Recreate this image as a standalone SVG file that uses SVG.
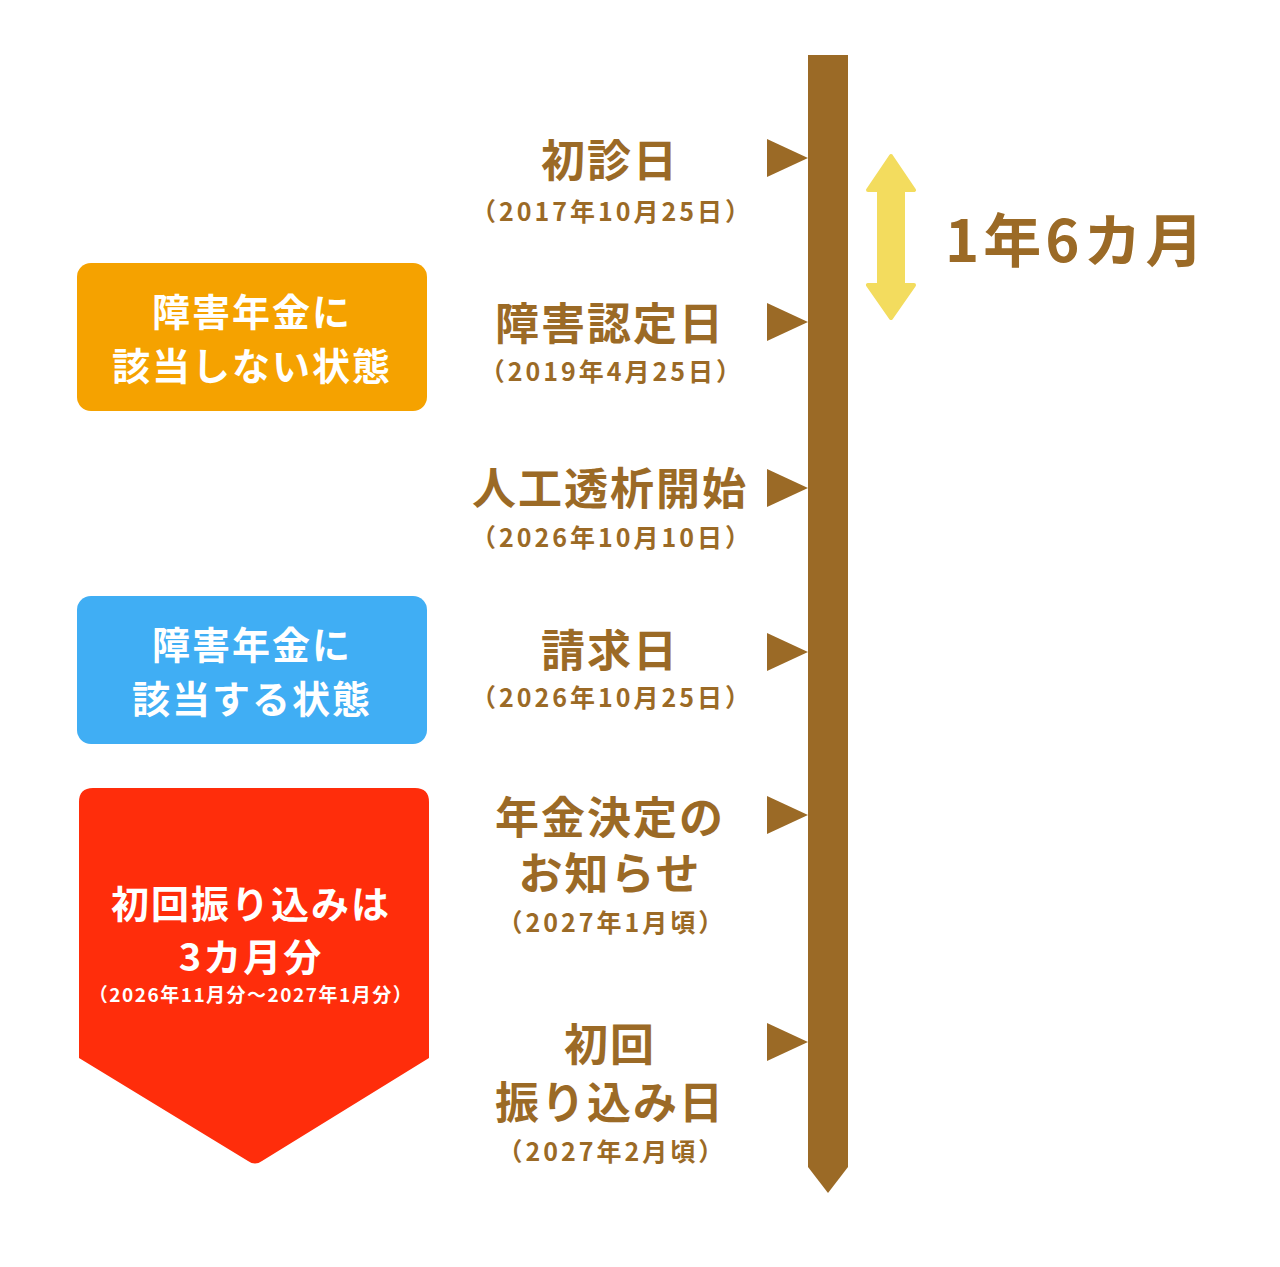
<svg xmlns="http://www.w3.org/2000/svg" width="1280" height="1267" viewBox="0 0 1280 1267">
<style>
.lbl{font-family:"Noto Sans CJK JP","Noto Sans",sans-serif;font-weight:700;fill:#9B6A26;text-anchor:middle;font-size:44px;letter-spacing:2px}
.dt{font-family:"Noto Sans CJK JP","Noto Sans",sans-serif;font-weight:700;fill:#9B6A26;text-anchor:middle;font-size:25px;letter-spacing:3px}
.wt{font-family:"Noto Sans CJK JP","Noto Sans",sans-serif;font-weight:700;fill:#FFFFFF;text-anchor:middle;font-size:38px;letter-spacing:2px}
.wts{font-family:"Noto Sans CJK JP","Noto Sans",sans-serif;font-weight:700;fill:#FFFFFF;text-anchor:middle;font-size:19px;letter-spacing:1.5px}
.tri{fill:#9B6A26}
</style>
<rect width="1280" height="1267" fill="#FFFFFF"/>
<g id="timeline">
<polygon points="808,55 848,55 848,1167 828,1193 808,1167" fill="#9B6A26"/>
</g>
<g id="connectors">
<polygon class="tri" points="767,139 808,158 767,177"/>
<polygon class="tri" points="767,303 808,322 767,341"/>
<polygon class="tri" points="767,469 808,488 767,507"/>
<polygon class="tri" points="767,633 808,652 767,671"/>
<polygon class="tri" points="767,796 808,815 767,834"/>
<polygon class="tri" points="767,1023 808,1042 767,1061"/>
</g>
<g id="duration">
<path d="M891 156 L914 190 L903 190 L903 285 L914 285 L891 318 L868 285 L879 285 L879 190 L868 190 Z" fill="#F3DC5E" stroke="#F3DC5E" stroke-width="4" stroke-linejoin="round"/>
<text x="945" y="262" font-family="'Noto Sans CJK JP','Noto Sans',sans-serif" font-weight="700" font-size="58" letter-spacing="4" fill="#9B6A26">1年6カ月</text>
</g>
<g id="shoshinbi">
<text class="lbl" x="610" y="177">初診日</text>
<text class="dt" x="612" y="221">（2017年10月25日）</text>
</g>
<g id="shogai-nintei">
<text class="lbl" x="610" y="340">障害認定日</text>
<text class="dt" x="612" y="381">（2019年4月25日）</text>
</g>
<g id="toseki">
<text class="lbl" x="610" y="505">人工透析開始</text>
<text class="dt" x="612" y="547">（2026年10月10日）</text>
</g>
<g id="seikyu">
<text class="lbl" x="610" y="667">請求日</text>
<text class="dt" x="612" y="707">（2026年10月25日）</text>
</g>
<g id="kettei">
<text class="lbl" x="610" y="834">年金決定の</text>
<text class="lbl" x="610" y="890">お知らせ</text>
<text class="dt" x="612" y="932">（2027年1月頃）</text>
</g>
<g id="furikomi">
<text class="lbl" x="610" y="1061">初回</text>
<text class="lbl" x="610" y="1119">振り込み日</text>
<text class="dt" x="612" y="1161">（2027年2月頃）</text>
</g>
<g id="box-not">
<rect x="77" y="263" width="350" height="148" rx="14" fill="#F5A200"/>
<text class="wt" x="252" y="326">障害年金に</text>
<text class="wt" x="252" y="380">該当しない状態</text>
</g>
<g id="box-yes">
<rect x="77" y="596" width="350" height="148" rx="14" fill="#40AEF4"/>
<text class="wt" x="252" y="659">障害年金に</text>
<text class="wt" x="252" y="713">該当する状態</text>
</g>
<g id="box-first">
<path d="M79 802 Q79 788 93 788 H415 Q429 788 429 802 V1058 L262 1161 Q255 1166 248 1161 L79 1058 Z" fill="#FF2D0B"/>
<text class="wt" x="251" y="918">初回振り込みは</text>
<text class="wt" x="251" y="971">3カ月分</text>
<text class="wts" x="251" y="1002">（2026年11月分～2027年1月分）</text>
</g>
</svg>
